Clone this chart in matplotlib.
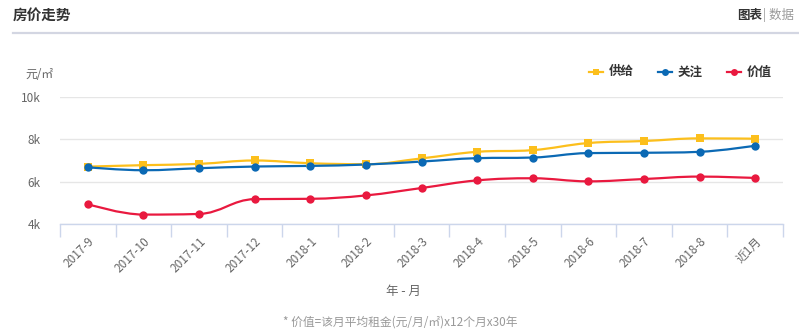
import matplotlib
matplotlib.use("Agg")
import matplotlib.pyplot as plt
import numpy as np
from matplotlib.path import Path
from matplotlib.patches import PathPatch
from matplotlib.lines import Line2D

plt.rcParams['font.family'] = ['Noto Sans CJK SC', 'DejaVu Sans']

months = ["2017-9", "2017-10", "2017-11", "2017-12", "2018-1", "2018-2", "2018-3",
          "2018-4", "2018-5", "2018-6", "2018-7", "2018-8", "近1月"]
supply = [6710, 6780, 6840, 7000, 6870, 6825, 7100, 7410, 7490, 7825, 7920, 8045, 8030]
attention = [6680, 6540, 6635, 6715, 6745, 6810, 6950, 7110, 7140, 7350, 7365, 7410, 7700]
value = [4940, 4445, 4475, 5175, 5190, 5350, 5700, 6060, 6160, 6015, 6125, 6240, 6175]
yticks = [4000, 6000, 8000, 10000]
ytick_labels = ["4k", "6k", "8k", "10k"]

C_SUPPLY = "#fcbf1c"
C_ATT = "#0b69b4"
C_VAL = "#e9193f"


def spline_path(xs, ys, smoothing=1.5):
    # cubic bezier through points, highcharts style
    n = len(xs)
    denom = smoothing + 1
    lc = [(xs[i], ys[i]) for i in range(n)]
    rc = [(xs[i], ys[i]) for i in range(n)]
    for i in range(1, n - 1):
        px, py = xs[i], ys[i]
        lx, ly = xs[i - 1], ys[i - 1]
        nx, ny = xs[i + 1], ys[i + 1]
        lcx = (smoothing * px + lx) / denom
        lcy = (smoothing * py + ly) / denom
        rcx = (smoothing * px + nx) / denom
        rcy = (smoothing * py + ny) / denom
        corr = (rcy - lcy) * (rcx - px) / (rcx - lcx) + py - rcy
        lcy += corr
        rcy += corr
        if lcy > ly and lcy > py:
            lcy = max(ly, py)
            rcy = 2 * py - lcy
        elif lcy < ly and lcy < py:
            lcy = min(ly, py)
            rcy = 2 * py - lcy
        if rcy > ny and rcy > py:
            rcy = max(ny, py)
            lcy = 2 * py - rcy
        elif rcy < ny and rcy < py:
            rcy = min(ny, py)
            lcy = 2 * py - rcy
        lc[i] = (lcx, lcy)
        rc[i] = (rcx, rcy)
    verts = [(xs[0], ys[0])]
    codes = [Path.MOVETO]
    for i in range(1, n):
        verts += [rc[i - 1], lc[i], (xs[i], ys[i])]
        codes += [Path.CURVE4] * 3
    return Path(verts, codes)


fig = plt.figure(figsize=(7.99, 3.35), dpi=100)
W, H = 799, 335
ax = fig.add_axes([60 / W, (H - 224) / H, (783 - 60) / W, (224 - 97) / H])

x = np.arange(len(months))
for ys, col, mk, ms in [(supply, C_SUPPLY, "s", 5.5),
                        (attention, C_ATT, "o", 6),
                        (value, C_VAL, "o", 6)]:
    p = spline_path(list(x), list(ys))
    ax.add_patch(PathPatch(p, facecolor="none", edgecolor=col, lw=1.6, zorder=3))
    ax.plot(x, ys, linestyle="none", marker=mk, color=col, markersize=ms,
            markeredgewidth=0, zorder=4)

ax.set_xlim(-0.5, len(months) - 0.5)
ax.set_ylim(4000, 10000)
ax.set_yticks(yticks)
ax.set_yticklabels(ytick_labels)
ax.grid(axis="y", color="#e6e6e6", lw=1)
ax.set_axisbelow(True)
for s in ["top", "right", "left"]:
    ax.spines[s].set_visible(False)
ax.spines["bottom"].set_color("#ccd6eb")
ax.spines["bottom"].set_linewidth(1)
ax.tick_params(axis="y", length=0, pad=14, labelsize=8.5, labelcolor="#666666")

ax.set_xticks(x)
ax.set_xticklabels(months, rotation=45, ha="right", rotation_mode="anchor")
ax.tick_params(axis="x", length=0, pad=8, labelsize=8.5, labelcolor="#666666")
ax.set_xticks(np.arange(len(months) + 1) - 0.5, minor=True)
ax.tick_params(axis="x", which="minor", length=9, color="#ccd6eb", width=1)

# header
fig.text(13 / W, 1 - 15 / H, "房价走势", fontsize=10.5, fontweight="bold",
         color="#333333", va="center", ha="left")
fig.add_artist(Line2D([13 / W, 1], [1 - 33 / H, 1 - 33 / H], color="#d3d6e2", lw=1.6))
fig.text(762 / W, 1 - 15 / H, "图表", fontsize=9, fontweight="bold", color="#333333",
         va="center", ha="right")
fig.text(763 / W, 1 - 15 / H, "| 数据", fontsize=9, color="#999999", va="center", ha="left")

fig.text(25 / W, 1 - 74 / H, "元/㎡", fontsize=8.5, color="#666666", va="center", ha="left")

# legend
for mx, col, mk, label in [(596, C_SUPPLY, "s", "供给"),
                           (665, C_ATT, "o", "关注"),
                           (734, C_VAL, "o", "价值")]:
    yy = 1 - 72 / H
    fig.add_artist(Line2D([(mx - 7) / W, (mx + 7) / W], [yy, yy], color=col, lw=1.6))
    fig.add_artist(Line2D([mx / W], [yy], color=col, marker=mk, markersize=5,
                          markeredgewidth=0))
    fig.text((mx + 13) / W, yy, label, fontsize=9, fontweight="bold", color="#333333",
             va="center", ha="left")

fig.text(403 / W, 1 - 291 / H, "年 - 月", fontsize=9, color="#666666", va="center", ha="center")
fig.text(400 / W, 1 - 322 / H, "* 价值=该月平均租金(元/月/㎡)x12个月x30年", fontsize=8.5,
         color="#999999", va="center", ha="center")

fig.savefig("out.png", dpi=100)
